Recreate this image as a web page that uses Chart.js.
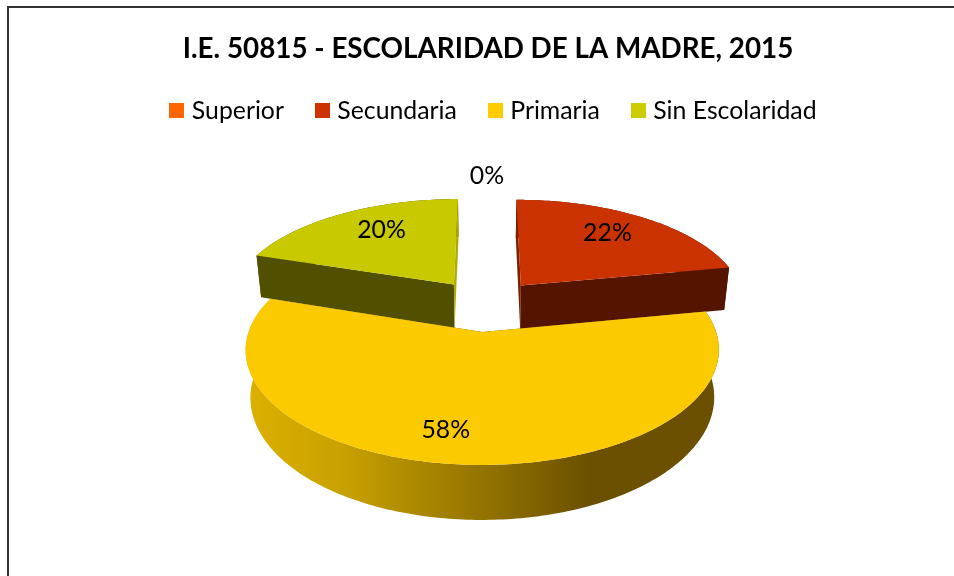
<!DOCTYPE html>
<html>
<head>
<meta charset="utf-8">
<style>
html,body{margin:0;padding:0;background:#fff;overflow:hidden}
#frame{position:absolute;left:7px;top:6px;right:-4px;bottom:-4px;border-left:2px solid #333;border-top:2px solid #333}
canvas{position:absolute;left:0;top:0}
</style>
<script src="https://cdn.jsdelivr.net/npm/chart.js@4/dist/chart.umd.min.js"></script>
</head>
<body>
<div id="frame"></div>
<canvas id="c" width="954" height="576"></canvas>
<script>
const categories = ["Superior", "Secundaria", "Primaria", "Sin Escolaridad"];
const values = [0, 22, 58, 20];
const pctLabels = ["0%", "22%", "58%", "20%"];
const legendColors = ["#FF6600", "#CC3300", "#FFCC00", "#CCCC00"];
const topColors = ["#FF6600", "#CA3300", "#FCCA00", "#C9C900"];
const wallColors = ["#662900", "#541400", "#6A5000", "#505000"];
const startWallColors = ["#662900", "#7A2000", "#6A5000", "#505000"];
const endWallColors = ["#662900", "#541400", "#6A5000", "#ABAB00"];
const labelRadius = [1.15, 0.68, 0.68, 0.68];
const labelNudge = [[1, -9], [1, -5], [-25, 13], [6, -5]];

// View of the tilted, exploded pie
const VIEW = {cx: 486, cy: 305, s: 225, k: 104, p: 0.15, h: 44.7, explode: 0.25, converge: 0.02};

function project(u, v, z) {
  const w = 1 - VIEW.p * v;
  return [VIEW.cx + VIEW.s * u / w * (1 - VIEW.converge * z), VIEW.cy + (VIEW.k * v + VIEW.h * z) / w];
}
function poly(ctx, pts, fill) {
  ctx.beginPath();
  pts.forEach((p, i) => i ? ctx.lineTo(p[0], p[1]) : ctx.moveTo(p[0], p[1]));
  ctx.closePath();
  ctx.fillStyle = fill;
  ctx.fill();
}
const pie3d = {
  id: 'pie3d',
  afterLayout(chart) {
    chart.legend.left += 15;
  },
  beforeDatasetsDraw(chart) {
    const ctx = chart.ctx;
    const arcs = chart.getDatasetMeta(0).data.map((el, i) => {
      const a0 = el.startAngle, a1 = el.endAngle, m = (a0 + a1) / 2;
      return {i, a0, a1, m, ou: VIEW.explode * Math.cos(m), ov: VIEW.explode * Math.sin(m)};
    });
    ctx.save();
    arcs.slice().sort((a, b) => Math.sin(a.m) - Math.sin(b.m)).forEach(s => {
      if (s.a1 - s.a0 < 1e-4) return;
      const rim = [];
      const n = Math.max(8, Math.ceil((s.a1 - s.a0) * 60));
      for (let j = 0; j <= n; j++) {
        const a = s.a0 + (s.a1 - s.a0) * j / n;
        rim.push([s.ou + Math.cos(a), s.ov + Math.sin(a)]);
      }
      const P = z => rim.map(q => project(q[0], q[1], z));
      const top = P(0), bot = P(1);
      const a0 = project(s.ou, s.ov, 0), a1 = project(s.ou, s.ov, 1);
      let wall = wallColors[s.i];
      if (s.i === 2) {
        const g = ctx.createLinearGradient(245, 0, 719, 0);
        g.addColorStop(0, '#DDB000');
        g.addColorStop(0.2, '#C9A200');
        g.addColorStop(0.73, '#6A5000');
        g.addColorStop(1, '#6A5000');
        wall = g;
      }
      poly(ctx, top.concat(bot.slice().reverse()), wall);
      poly(ctx, [a0, top[0], bot[0], a1], startWallColors[s.i]);
      poly(ctx, [a0, top[n], bot[n], a1], endWallColors[s.i]);
      poly(ctx, [a0].concat(top), topColors[s.i]);
    });
    ctx.font = '24.8px Lato';
    ctx.fillStyle = '#000';
    ctx.textAlign = 'center';
    ctx.textBaseline = 'middle';
    arcs.forEach(s => {
      const r = labelRadius[s.i];
      const p = project(s.ou + r * Math.cos(s.m), s.ov + r * Math.sin(s.m), 0);
      ctx.fillText(pctLabels[s.i], p[0] + labelNudge[s.i][0], p[1] + labelNudge[s.i][1]);
    });
    ctx.restore();
    return false;
  }
};
function swatch(color) {
  const c = document.createElement('canvas');
  c.width = 15; c.height = 15;
  const x = c.getContext('2d');
  x.fillStyle = color;
  x.fillRect(0, 0, 15, 15);
  return c;
}
new Chart(document.getElementById('c'), {
  type: 'pie',
  data: {labels: categories, datasets: [{data: values, backgroundColor: topColors, borderWidth: 0}]},
  plugins: [pie3d],
  options: {
    responsive: false,
    animation: false,
    layout: {padding: {left: 22, top: 0, right: 0, bottom: 0}},
    plugins: {
      tooltip: {enabled: false},
      title: {display: true, text: 'I.E. 50815 - ESCOLARIDAD DE LA MADRE, 2015', color: '#000',
        font: {family: 'Lato', size: 27.8, weight: 'bold'}, padding: {top: 32, bottom: -3}},
      legend: {position: 'top', labels: {
        color: '#000', font: {family: 'Lato', size: 24.8}, usePointStyle: true, boxWidth: 5, boxHeight: 15, padding: 36,
        generateLabels: ch => categories.map((t, i) => ({text: t, fillStyle: legendColors[i], strokeStyle: legendColors[i], lineWidth: 0, pointStyle: swatch(legendColors[i]), index: i, hidden: false, fontColor: '#000'}))
      }}
    }
  }
});
</script>
</body>
</html>
